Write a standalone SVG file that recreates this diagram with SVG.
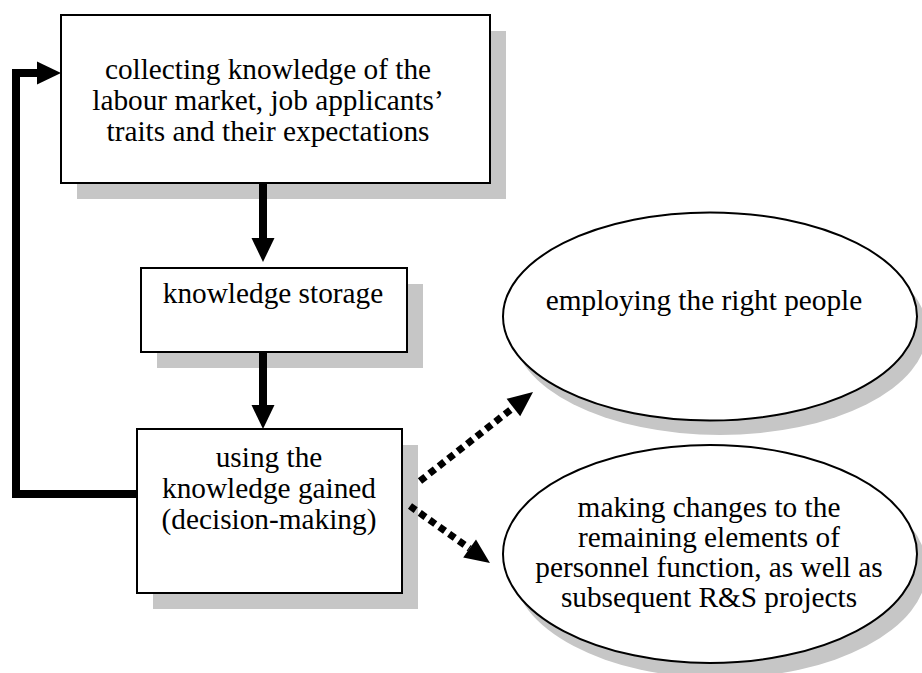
<svg xmlns="http://www.w3.org/2000/svg" width="922" height="673" viewBox="0 0 922 673">
<defs>
<style>
.box{fill:#fff;stroke:#000;stroke-width:2}
.shadow{fill:#c6c6c6}
.t{font-family:"Liberation Serif","Times New Roman",serif;font-size:29.3px;fill:#000;text-anchor:middle}
.solid{fill:none;stroke:#000;stroke-width:8;stroke-linejoin:miter}
.dot{fill:none;stroke:#000;stroke-width:7;stroke-dasharray:7 5}
</style>
<marker id="ah" markerUnits="userSpaceOnUse" markerWidth="24" markerHeight="23" refX="0" refY="11.5" orient="auto" overflow="visible">
<path d="M0,0 L24,11.5 L0,23 z" fill="#000"/>
</marker>
<marker id="ahd" markerUnits="userSpaceOnUse" markerWidth="25" markerHeight="22" refX="0" refY="11" orient="auto" overflow="visible">
<path d="M0,0 L25,11 L0,22 z" fill="#000"/>
</marker>
</defs>
<rect width="922" height="673" fill="#fff"/>

<g id="collecting">
<rect class="shadow" x="77" y="31" width="429" height="168"/>
<rect class="box" x="61" y="15" width="429" height="168"/>
<text class="t" x="268" y="79">collecting knowledge of the</text>
<text class="t" x="268" y="110">labour market, job applicants’</text>
<text class="t" x="268" y="141">traits and their expectations</text>
</g>

<g id="storage">
<rect class="shadow" x="157" y="284" width="266" height="84"/>
<rect class="box" x="141" y="268" width="266" height="84"/>
<text class="t" x="273" y="303">knowledge storage</text>
</g>

<g id="using">
<rect class="shadow" x="153" y="445" width="265" height="164"/>
<rect class="box" x="137" y="429" width="265" height="164"/>
<text class="t" x="269" y="467">using the</text>
<text class="t" x="269" y="498">knowledge gained</text>
<text class="t" x="269" y="529">(decision-making)</text>
</g>

<g id="employing">
<ellipse class="shadow" cx="720" cy="331" rx="207" ry="104"/>
<ellipse class="box" cx="710" cy="316.5" rx="207" ry="104"/>
<text class="t" x="704" y="310">employing the right people</text>
</g>

<g id="changes">
<ellipse class="shadow" cx="720" cy="569" rx="207" ry="109"/>
<ellipse class="box" cx="710" cy="554" rx="207" ry="109"/>
<text class="t" x="709" y="517">making changes to the</text>
<text class="t" x="709" y="547">remaining elements of</text>
<text class="t" x="709" y="577">personnel function, as well as</text>
<text class="t" x="709" y="607">subsequent R&amp;S projects</text>
</g>

<g id="connectors">
<path class="solid" d="M263,183 V238" marker-end="url(#ah)"/>
<path class="solid" d="M263,352 V405" marker-end="url(#ah)"/>
<path class="solid" d="M137,494 H16 V73 H37" marker-end="url(#ah)"/>
<path class="dot" d="M420,481 L513.4,407.5" marker-end="url(#ahd)"/>
<path class="dot" d="M410,506 L469.6,548.5" marker-end="url(#ahd)"/>
</g>
</svg>
